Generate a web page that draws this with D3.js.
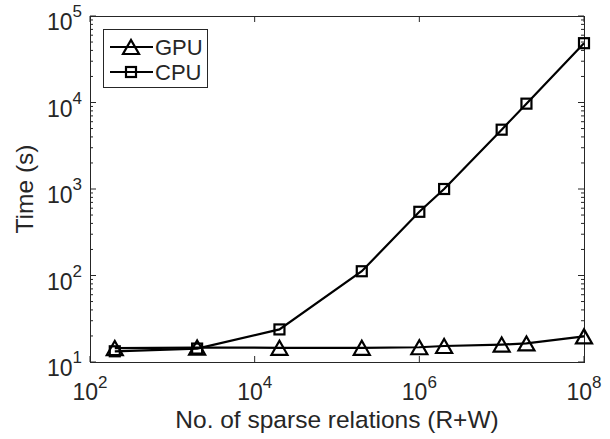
<!DOCTYPE html>
<meta charset="utf-8">
<title>Time vs sparse relations</title>
<script src="https://d3js.org/d3.v7.min.js"></script>
<style>
    body { margin: 0; background: #fff; }
    text { font-family: "Liberation Sans", Arial, sans-serif; fill: #262626; }
</style>
<body>
<script>
    // Data
    const relations = [2e2, 2e3, 2e4, 2e5, 1e6, 2e6, 1e7, 2e7, 1e8];
    const gpuTime   = [14.5, 14.7, 14.6, 14.6, 14.8, 15.3, 15.9, 16.4, 19.8];
    const cpuTime   = [13.3, 14.3, 23.8, 112, 545, 1000, 4850, 9700, 48500];

    const xTicks = [1e2, 1e4, 1e6, 1e8];
    const yTicks = [1e1, 1e2, 1e3, 1e4, 1e5];

    const width  = 610;
    const height = 439;
    const margin = { left: 90, right: 26, top: 16, bottom: 77 };

    const x = d3.scaleLog().domain([1e2, 1e8]).range([margin.left, width - margin.right]);
    const y = d3.scaleLog().domain([1e1, 1e5]).range([height - margin.bottom, margin.top]);

    // minor ticks on the y axis: 2..9 x 10^k
    const yMinor = [];
    for (let k = 1; k < 5; k++) {
        for (let m = 2; m < 10; m++) yMinor.push(m * Math.pow(10, k));
    }

    const svg = d3.select("body")
                  .append("svg")
                  .attr("width", width)
                  .attr("height", height);

    const x0 = x.range()[0], x1 = x.range()[1];
    const y0 = y.range()[0], y1 = y.range()[1];

    // Ticks (inward)
    const ink = "#262626";
    const tickG = svg.append("g").attr("stroke", ink).attr("stroke-width", 1);

    xTicks.forEach(v => {
        tickG.append("line").attr("x1", x(v)).attr("x2", x(v)).attr("y1", y0).attr("y2", y0 - 6);
        tickG.append("line").attr("x1", x(v)).attr("x2", x(v)).attr("y1", y1).attr("y2", y1 + 6);
    });
    yTicks.forEach(v => {
        tickG.append("line").attr("x1", x0).attr("x2", x0 + 6).attr("y1", y(v)).attr("y2", y(v));
        tickG.append("line").attr("x1", x1).attr("x2", x1 - 6).attr("y1", y(v)).attr("y2", y(v));
    });
    yMinor.forEach(v => {
        tickG.append("line").attr("x1", x0).attr("x2", x0 + 3).attr("y1", y(v)).attr("y2", y(v));
        tickG.append("line").attr("x1", x1).attr("x2", x1 - 3).attr("y1", y(v)).attr("y2", y(v));
    });

    // Box
    svg.append("rect")
       .attr("x", x0 + 0.5).attr("y", y1 + 0.5)
       .attr("width", x1 - x0).attr("height", y0 - y1)
       .attr("fill", "none")
       .attr("stroke", ink);

    // Tick labels with superscripts
    const exp = v => Math.round(Math.log10(v));

    svg.append("g").selectAll("text")
       .data(xTicks)
       .enter()
       .append("text")
       .attr("x", d => x(d))
       .attr("y", y0 + 38)
       .attr("text-anchor", "middle")
       .style("font-size", "23px")
       .each(function(d) {
           const t = d3.select(this);
           t.append("tspan").text("10");
           t.append("tspan").attr("dy", -12).style("font-size", "17px").text(exp(d));
       });

    svg.append("g").selectAll("text")
       .data(yTicks)
       .enter()
       .append("text")
       .attr("x", x0 - 8)
       .attr("y", d => y(d) + 14)
       .attr("text-anchor", "end")
       .style("font-size", "23px")
       .each(function(d) {
           const t = d3.select(this);
           t.append("tspan").text("10");
           t.append("tspan").attr("dy", -13).style("font-size", "17px").text(exp(d));
       });

    // Axis labels
    svg.append("text")
       .attr("x", (x0 + x1) / 2)
       .attr("y", 428)
       .attr("text-anchor", "middle")
       .style("font-size", "24.5px")
       .text("No. of sparse relations (R+W)");

    svg.append("text")
       .attr("transform", "translate(33," + ((y0 + y1) / 2) + ") rotate(-90)")
       .attr("text-anchor", "middle")
       .style("font-size", "24.5px")
       .text("Time (s)");

    // Markers
    const triangle = (g, cx, cy) => g.append("path")
        .attr("d", `M${cx - 8},${cy + 7}L${cx + 8},${cy + 7}L${cx},${cy - 7}Z`)
        .attr("fill", "none").attr("stroke", "#000").attr("stroke-width", 2.2)
        .attr("stroke-linejoin", "miter");
    const square = (g, cx, cy) => g.append("rect")
        .attr("x", cx - 5).attr("y", cy - 5).attr("width", 10).attr("height", 10)
        .attr("fill", "none").attr("stroke", "#000").attr("stroke-width", 2.2);

    const line = d3.line().x(d => x(d[0])).y(d => y(d[1]));

    const series = [
        { name: "GPU", values: gpuTime, marker: triangle },
        { name: "CPU", values: cpuTime, marker: square }
    ];

    series.forEach(s => {
        const pts = relations.map((r, i) => [r, s.values[i]]);
        const g = svg.append("g");
        g.append("path")
         .attr("d", line(pts))
         .attr("fill", "none")
         .attr("stroke", "#000")
         .attr("stroke-width", 2.2);
        pts.forEach(p => s.marker(g, x(p[0]), y(p[1])));
    });

    // Legend
    const lg = svg.append("g");
    lg.append("rect")
      .attr("x", 103.5).attr("y", 29.5).attr("width", 104).attr("height", 58)
      .attr("fill", "#fff").attr("stroke", ink);
    series.forEach((s, i) => {
        const cy = 47 + i * 25;
        lg.append("line")
          .attr("x1", 110).attr("x2", 153).attr("y1", cy).attr("y2", cy)
          .attr("stroke", "#000").attr("stroke-width", 2.2);
        s.marker(lg, 131, cy);
        lg.append("text")
          .attr("x", 155).attr("y", cy + 8)
          .style("font-size", "22px")
          .text(s.name);
    });
</script>
</body>
